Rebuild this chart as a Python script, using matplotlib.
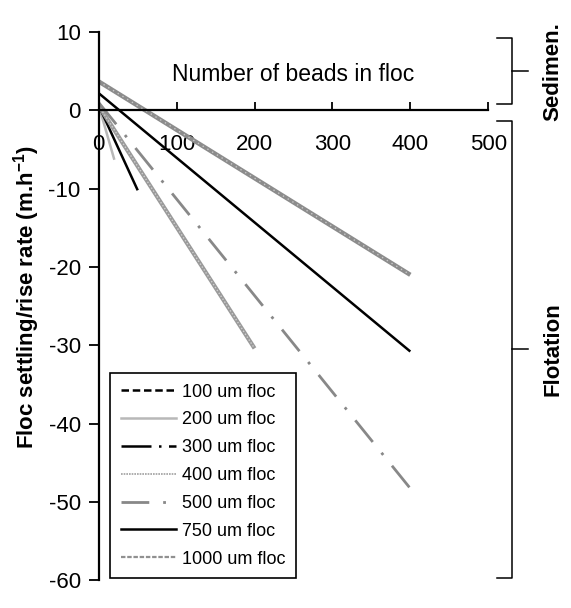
import numpy as np
import matplotlib
matplotlib.use("Agg")
import matplotlib.pyplot as plt
from matplotlib.lines import Line2D
from matplotlib.transforms import blended_transform_factory

plt.rcParams["font.family"] = ["Liberation Sans", "DejaVu Sans"]
plt.rcParams["axes.unicode_minus"] = False
plt.rcParams["mathtext.fontset"] = "custom"
plt.rcParams["mathtext.rm"] = "Liberation Sans:bold"
plt.rcParams["mathtext.default"] = "rm"

# number of beads in floc -> settling(+)/rise(-) rate, m/h
labels = ["100 um floc", "200 um floc", "300 um floc", "400 um floc",
          "500 um floc", "750 um floc", "1000 um floc"]
beads = [[0, 3], [0, 20], [0, 50], [0, 200], [0, 400], [0, 400], [0, 400]]
rate = [[0.5, -0.8], [0.6, -6.3], [0.6, -10.2], [0.6, -30.4],
        [1.0, -48.3], [2.2, -30.8], [3.7, -21.0]]

regions = ["Sedimen.", "Flotation"]
region_span = [(0.8, 9.2), (-1.3, -59.7)]

fig = plt.figure(figsize=(5.71, 6.08), dpi=100)
ax = fig.add_axes([0.173, 0.046, 0.682, 0.901])

styles = [
    dict(color="black", lw=1.8, ls=(0, (3, 1.5))),
    dict(color="#b8b8b8", lw=1.8, ls="-"),
    dict(color="black", lw=1.8, ls=(0, (12, 3, 1, 3))),
    dict(color="#9a9a9a", lw=3.0, ls="-"),
    dict(color="#888888", lw=2.0, ls=(0, (10, 5, 1, 5))),
    dict(color="black", lw=1.8, ls="-"),
    dict(color="#8c8c8c", lw=3.2, ls="-"),
]
for i, (b, r, st) in enumerate(zip(beads, rate, styles)):
    st_plot = dict(st)
    if i == 2:
        st_plot["ls"] = "-"   # short segment shows as solid in the original
    ax.plot(b, r, solid_capstyle="butt", **st_plot)
# speckle on the stippled series
ax.plot(beads[3], rate[3], color="#d0d0d0", lw=1.0, ls=(0, (1, 1.5)))
ax.plot(beads[6], rate[6], color="#c8c8c8", lw=1.0, ls=(0, (1, 3)))

ax.set_xlim(0, 500)
ax.set_ylim(-60, 10)
ax.set_yticks(np.arange(-60, 11, 10))
ax.set_xticks(np.arange(0, 501, 100))
ax.spines["bottom"].set_position(("data", 0))
ax.spines["top"].set_visible(False)
ax.spines["right"].set_visible(False)
for s in ("left", "bottom"):
    ax.spines[s].set_linewidth(1.6)
ax.tick_params(axis="y", direction="out", length=7, width=1.3, labelsize=16, pad=6)
ax.tick_params(axis="x", direction="in", length=6, width=1.3, labelsize=16, pad=17)

ax.text(249, 4.6, "Number of beads in floc", ha="center", va="center", fontsize=16.5)
ax.set_ylabel("Floc settling/rise rate (m.h$^{-1}$)", fontsize=16,
              fontweight="bold")
ax.yaxis.set_label_coords(-0.145, 0.516)

handles = [Line2D([], [], **st) for st in styles]
handles[3] = Line2D([], [], color="#a0a0a0", lw=1.2, ls=(0, (1, 0.6)))
handles[6] = Line2D([], [], color="#909090", lw=1.6, ls=(0, (2, 0.8)))
leg = ax.legend(handles, labels, loc="lower left", bbox_to_anchor=(0.028, 0.003),
                borderaxespad=0, fontsize=13, handlelength=3.1, handletextpad=0.3,
                labelspacing=0.6, borderpad=0.6, fancybox=False,
                framealpha=1, edgecolor="black")
leg.get_frame().set_linewidth(1.2)

# brackets on the right
tr = blended_transform_factory(fig.transFigure, ax.transData)
x0, x1, x2 = 0.870, 0.896, 0.925
for name, (top, bot) in zip(regions, region_span):
    ax.plot([x0, x1, x1, x0], [top, top, bot, bot], color="black", lw=1.1,
            transform=tr, clip_on=False)
    mid = (top + bot) / 2
    ax.plot([x1, x2], [mid, mid], color="black", lw=1.1, transform=tr, clip_on=False)
    ax.text(0.968, mid, name, rotation=90, ha="center", va="center", fontsize=16,
            fontweight="bold", transform=tr)

fig.savefig("out.png", dpi=100)
